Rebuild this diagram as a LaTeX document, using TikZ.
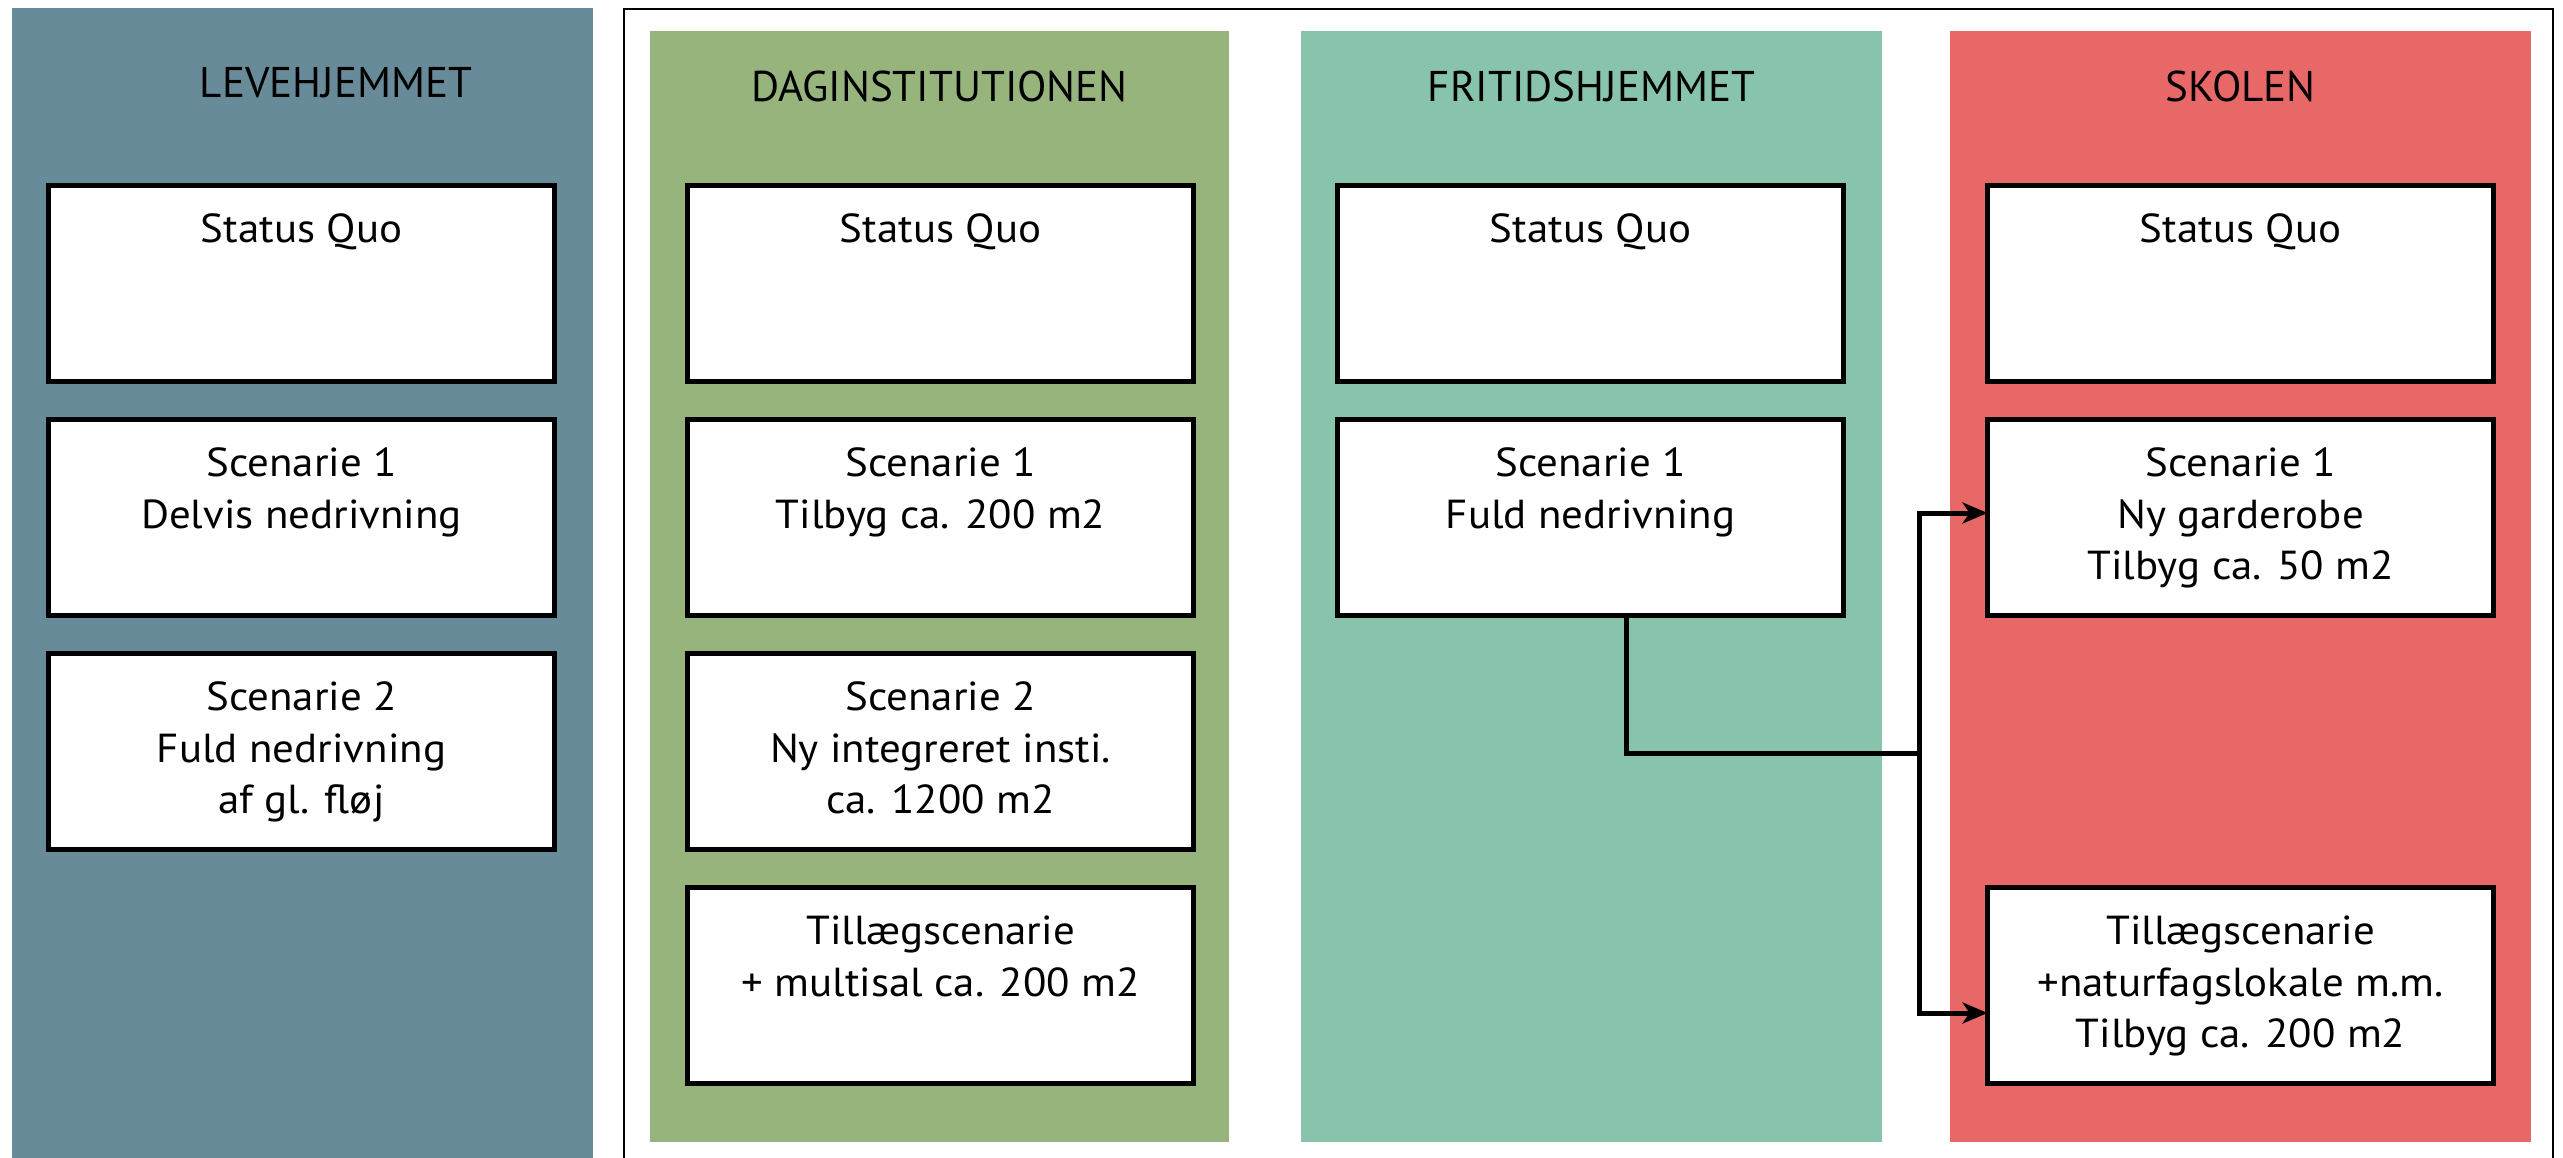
\documentclass[tikz,border=0pt]{standalone}
\usepackage{fontspec}
\setmainfont{PT Sans}
\newfontfamily\bodyfont{PT Sans}[FakeStretch=1.06]
\usetikzlibrary{arrows.meta,calc}
\definecolor{levcol}{HTML}{688B99}
\definecolor{dagcol}{HTML}{97B47D}
\definecolor{fricol}{HTML}{87C4AB}
\definecolor{skocol}{HTML}{E86868}
\newcommand{\boxlines}[1]{\begin{tabular}[t]{@{}c@{}}#1\end{tabular}}
\tikzset{
  panel/.style={draw=none,inner sep=0pt,outer sep=0pt,anchor=north west},
  title/.style={anchor=base,inner sep=0pt,font=\fontsize{43}{52}\selectfont},
  box/.style={draw=black,fill=white,line width=5pt,minimum width=506pt,minimum height=196pt,anchor=north west,inner sep=0pt,outer sep=0pt},
  boxtext/.style={anchor=base,inner sep=0pt,font=\bodyfont\fontsize{40.5}{51.5}\selectfont},
  conn/.style={line width=5pt,draw=black,line join=miter},
  connarrow/.style={conn,-{Stealth[length=25pt,width=21pt,inset=7pt]}}
}
\begin{document}
\begin{tikzpicture}[x=1pt,y=-1pt]
\useasboundingbox (0,0) rectangle (2563,1158);
% panels
\node[panel,fill=levcol,minimum width=581pt,minimum height=1160pt] (plev) at (12,8) {};
\draw[line width=2pt] (2553,1170) -- (2553,9) -- (624,9) -- (624,1170);
\node[panel,fill=dagcol,minimum width=579pt,minimum height=1111pt] (pdag) at (650,31) {};
\node[panel,fill=fricol,minimum width=581pt,minimum height=1111pt] (pfri) at (1301,31) {};
\node[panel,fill=skocol,minimum width=581pt,minimum height=1111pt] (psko) at (1950,31) {};
% titles
\node[title] (tlev) at (336,98) {LEVEHJEMMET};
\node[title] (tdag) at (939.5,102) {DAGINSTITUTIONEN};
\node[title] (tfri) at (1591.5,102) {FRITIDSHJEMMET};
\node[title] (tsko) at (2240.5,102) {SKOLEN};
% boxes: Levehjemmet
\node[box] (l1) at (48.5,185.5) {};
\node[box] (l2) at (48.5,419.5) {};
\node[box] (l3) at (48.5,653.5) {};
\node[boxtext] (l1t) at ($(l1.north)+(0,57)$) {\boxlines{Status Quo}};
\node[boxtext] (l2t) at ($(l2.north)+(0,57)$) {\boxlines{Scenarie 1\\Delvis nedrivning}};
\node[boxtext] (l3t) at ($(l3.north)+(0,57)$) {\boxlines{Scenarie 2\\Fuld nedrivning\\af gl. fløj}};
% Daginstitutionen
\node[box] (d1) at (687.5,185.5) {};
\node[box] (d2) at (687.5,419.5) {};
\node[box] (d3) at (687.5,653.5) {};
\node[box] (d4) at (687.5,887.5) {};
\node[boxtext] (d1t) at ($(d1.north)+(0,57)$) {\boxlines{Status Quo}};
\node[boxtext] (d2t) at ($(d2.north)+(0,57)$) {\boxlines{Scenarie 1\\Tilbyg ca. 200 m2}};
\node[boxtext] (d3t) at ($(d3.north)+(0,57)$) {\boxlines{Scenarie 2\\Ny integreret insti.\\ca. 1200 m2}};
\node[boxtext] (d4t) at ($(d4.north)+(0,57)$) {\boxlines{Tillægscenarie\\+ multisal ca. 200 m2}};
% Fritidshjemmet
\node[box] (f1) at (1337.5,185.5) {};
\node[box] (f2) at (1337.5,419.5) {};
\node[boxtext] (f1t) at ($(f1.north)+(0,57)$) {\boxlines{Status Quo}};
\node[boxtext] (f2t) at ($(f2.north)+(0,57)$) {\boxlines{Scenarie 1\\Fuld nedrivning}};
% Skolen
\node[box] (s1) at (1987.5,185.5) {};
\node[box] (s2) at (1987.5,419.5) {};
\node[box] (s4) at (1987.5,887.5) {};
\node[boxtext] (s1t) at ($(s1.north)+(0,57)$) {\boxlines{Status Quo}};
\node[boxtext] (s2t) at ($(s2.north)+(0,57)$) {\boxlines{Scenarie 1\\Ny garderobe\\Tilbyg ca. 50 m2}};
\node[boxtext] (s4t) at ($(s4.north)+(0,57)$) {\boxlines{Tillægscenarie\\+naturfagslokale m.m.\\Tilbyg ca. 200 m2}};
% connectors
\coordinate (split) at (1919,753);
\draw[conn] ([xshift=35.5pt]f2.south) |- (split);
\draw[connarrow] (split) |- ([yshift=4.5pt]s2.west);
\draw[connarrow] (split) |- ([yshift=-27.5pt]s4.west);
\end{tikzpicture}
\end{document}
